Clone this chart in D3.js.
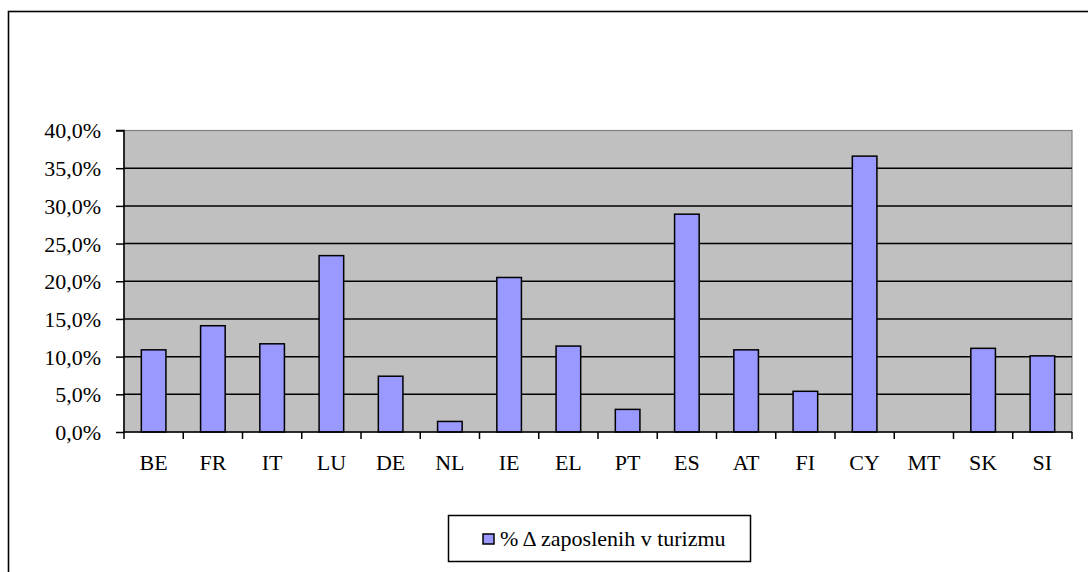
<!DOCTYPE html>
<html>
<head>
<meta charset="utf-8">
<script src="https://cdn.jsdelivr.net/npm/d3@7"></script>
<style>
  html, body { margin: 0; padding: 0; background: #fff; }
  svg { display: block; }
</style>
</head>
<body>
<svg id="chart" width="1088" height="572"></svg>
<script>
const categories = ["BE", "FR", "IT", "LU", "DE", "NL", "IE", "EL", "PT", "ES", "AT", "FI", "CY", "MT", "SK", "SI"];
const values = [10.9, 14.1, 11.7, 23.4, 7.4, 1.4, 20.5, 11.4, 3.0, 28.9, 10.9, 5.4, 36.6, 0, 11.1, 10.1];
const yTicks = [0, 5, 10, 15, 20, 25, 30, 35, 40];
const seriesName = "% \u0394 zaposlenih v turizmu";

const FONT = "Liberation Serif";

const svg = d3.select("#chart").style("font-family", FONT);
const W = 1088, H = 572;

// outer chart border
svg.append("rect")
  .attr("x", 8.5).attr("y", 11.5)
  .attr("width", W + 20).attr("height", H + 20)
  .attr("fill", "#fff").attr("stroke", "#000").attr("stroke-width", 1.6);

const plot = { left: 124, right: 1072, top: 130.5, bottom: 432 };

const x = d3.scaleBand().domain(categories).range([plot.left, plot.right]).padding(0);
const y = d3.scaleLinear().domain([0, 40]).range([plot.bottom, plot.top]);

// plot background
svg.append("rect")
  .attr("x", plot.left).attr("y", plot.top)
  .attr("width", plot.right - plot.left).attr("height", plot.bottom - plot.top)
  .attr("fill", "#c0c0c0").attr("stroke", "#808080").attr("stroke-width", 1.2);

// gridlines
svg.append("g").selectAll("line")
  .data(yTicks.filter(d => d > 0 && d < 40))
  .join("line")
  .attr("x1", plot.left).attr("x2", plot.right)
  .attr("y1", d => y(d)).attr("y2", d => y(d))
  .attr("stroke", "#000").attr("stroke-width", 1.5);

// bars
const barW = x.bandwidth() * 0.415;
svg.append("g").selectAll("rect")
  .data(categories.map((c, i) => ({ c, v: values[i] })).filter(d => d.v > 0))
  .join("rect")
  .attr("x", d => x(d.c) + (x.bandwidth() - barW) / 2)
  .attr("y", d => y(d.v))
  .attr("width", barW)
  .attr("height", d => y(0) - y(d.v))
  .attr("fill", "#9999ff").attr("stroke", "#000").attr("stroke-width", 1.5);

// y axis
const yAxis = d3.axisLeft(y).tickValues(yTicks).tickSize(8).tickPadding(15)
  .tickFormat(d => d3.format(".1f")(d).replace(".", ",") + "%");
const gy = svg.append("g").attr("transform", `translate(${plot.left},0)`).call(yAxis)
  .attr("font-family", null).attr("font-size", null);
gy.select(".domain").attr("stroke", "#000").attr("stroke-width", 1.5).attr("d", `M-8,${plot.top}H0V${plot.bottom}`);
gy.selectAll(".tick line").attr("stroke", "#000").attr("stroke-width", 1.5);
gy.selectAll(".tick text").attr("dy", "0.34em").attr("fill", "#000")
  .style("font-family", FONT).style("font-size", "22px");

// x axis
const gx = svg.append("g").attr("transform", `translate(0,${plot.bottom})`);
gx.append("line").attr("x1", plot.left).attr("x2", plot.right).attr("y1", 0).attr("y2", 0)
  .attr("stroke", "#000").attr("stroke-width", 1.5);
const bounds = categories.map(c => x(c)).concat([x(categories[categories.length - 1]) + x.bandwidth()]);
gx.selectAll("line.tk").data(bounds).join("line").attr("class", "tk")
  .attr("x1", d => d).attr("x2", d => d).attr("y1", 0).attr("y2", 7)
  .attr("stroke", "#000").attr("stroke-width", 1.5);
gx.selectAll("text").data(categories).join("text")
  .attr("x", d => x(d) + x.bandwidth() / 2)
  .attr("y", 38)
  .attr("text-anchor", "middle")
  .style("font-family", FONT).style("font-size", "22px")
  .text(d => d);

// legend
const lg = svg.append("g");
lg.append("rect").attr("x", 448.5).attr("y", 515.5).attr("width", 302).attr("height", 46)
  .attr("fill", "#fff").attr("stroke", "#000").attr("stroke-width", 1.5);
lg.append("rect").attr("x", 483).attr("y", 534).attr("width", 11).attr("height", 10)
  .attr("fill", "#9999ff").attr("stroke", "#000").attr("stroke-width", 1.5);
lg.append("text").attr("x", 500).attr("y", 546)
  .style("font-family", FONT).style("font-size", "22px")
  .text(seriesName);
</script>
</body>
</html>
